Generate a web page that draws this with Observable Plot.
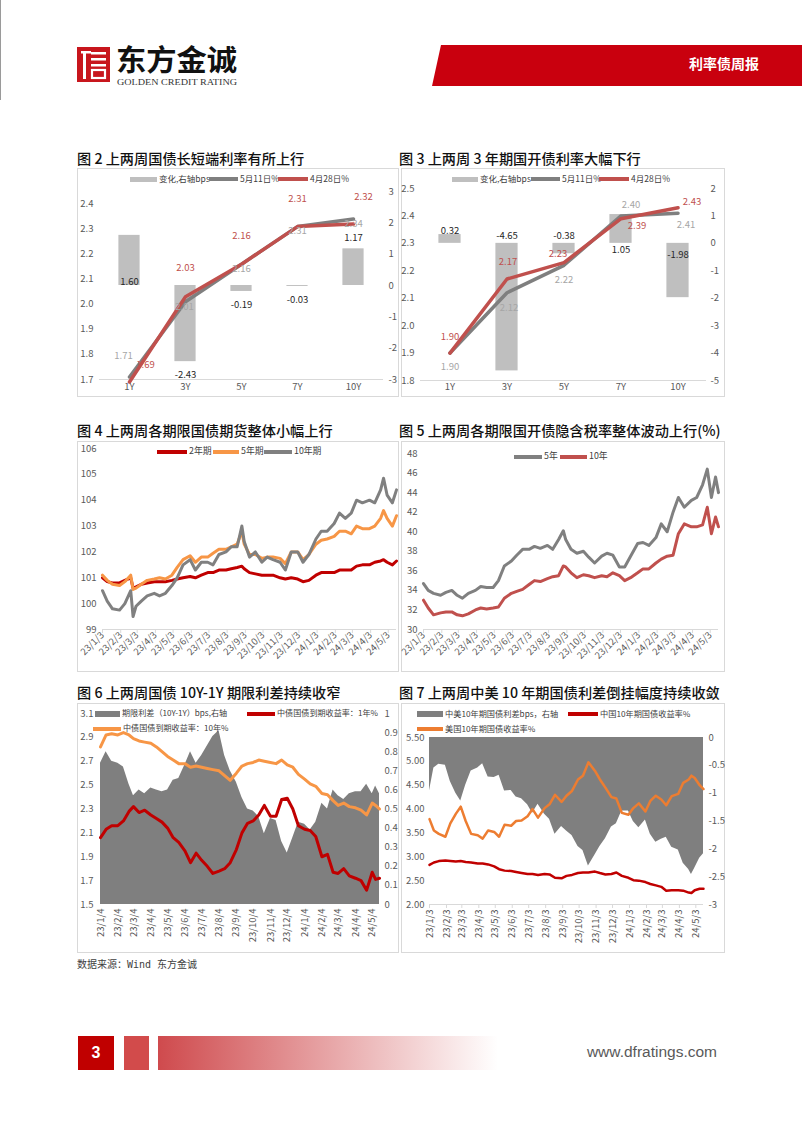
<!DOCTYPE html>
<html><head><meta charset="utf-8">
<script src="https://cdn.jsdelivr.net/npm/d3@7"></script>
<script src="https://cdn.jsdelivr.net/npm/@observablehq/plot@0.6"></script>
<style>
body{margin:0;background:#fff;}
#page{position:relative;width:802px;height:1133px;overflow:hidden;background:#fff;font-family:'Noto Sans CJK SC','Noto Sans',sans-serif;}
.abs{position:absolute;}
.panel{position:absolute;border:1px solid #d9d9d9;box-sizing:border-box;}
.title{position:absolute;font-size:14.2px;line-height:1;color:#111;font-weight:500;white-space:nowrap;}
.plot{position:absolute;}
.leg{position:absolute;line-height:1;color:#404040;white-space:nowrap;}
</style></head><body><div id="page">
<svg class="abs" style="left:0;top:0" width="802" height="100">
  <rect x="0" y="0" width="1" height="100" fill="#9a9a9a"/>
  <rect x="77" y="47" width="33" height="35" fill="#c8161d"/>
  <rect x="81" y="51" width="10" height="2.5" fill="#fff"/>
  <rect x="83" y="51" width="3" height="28" fill="#fff"/>
  <rect x="91" y="52" width="15" height="2.5" fill="#fff"/>
  <rect x="91" y="58" width="15" height="2.5" fill="#fff"/>
  <rect x="91" y="64" width="15" height="2.5" fill="#fff"/>
  <rect x="92" y="70" width="13" height="8" fill="none" stroke="#fff" stroke-width="2.2"/>
  <text x="116" y="71" font-family="Noto Sans CJK SC" font-weight="700" font-size="29" textLength="121" lengthAdjust="spacingAndGlyphs" fill="#111">东方金诚</text>
  <text x="117" y="85" font-family="Liberation Serif" font-size="9" textLength="120" lengthAdjust="spacingAndGlyphs" fill="#333">GOLDEN CREDIT RATING</text>
  <polygon points="441,45 802,45 802,86 432,86" fill="#c9000e"/>
  <text x="759" y="69" text-anchor="end" fill="#fff" font-family="Noto Sans CJK SC" font-size="14" font-weight="700">利率债周报</text>
</svg>
</div>
<script>
// ================= DATA =================
const c2Cats = ["1Y","3Y","5Y","7Y","10Y"];
const c2Change = [1.60,-2.43,-0.19,-0.03,1.17];
const c2May11 = [1.71,2.01,2.16,2.31,2.34];
const c2Apr28 = [1.69,2.03,2.16,2.31,2.32];
const c2LeftTicks = [1.7,1.8,1.9,2.0,2.1,2.2,2.3,2.4];
const c2RightTicks = [-3,-2,-1,0,1,2,3];
const c2Names = ["变化,右轴bps","5月11日%","4月28日%"];

const c3Cats = ["1Y","3Y","5Y","7Y","10Y"];
const c3Change = [0.32,-4.65,-0.38,1.05,-1.98];
const c3May11 = [1.90,2.12,2.22,2.40,2.41];
const c3Apr28 = [1.90,2.17,2.23,2.39,2.43];
const c3LeftTicks = [1.8,1.9,2.0,2.1,2.2,2.3,2.4,2.5];
const c3RightTicks = [-5,-4,-3,-2,-1,0,1,2];
const c3Names = ["变化,右轴bps","5月11日%","4月28日%"];

const monthTicks3 = ["2023-01-03","2023-02-03","2023-03-03","2023-04-03","2023-05-03","2023-06-03","2023-07-03","2023-08-03","2023-09-03","2023-10-03","2023-11-03","2023-12-03","2024-01-03","2024-02-03","2024-03-03","2024-04-03","2024-05-03"];
const monthTicks4 = ["2023-01-04","2023-02-04","2023-03-04","2023-04-04","2023-05-04","2023-06-04","2023-07-04","2023-08-04","2023-09-04","2023-10-04","2023-11-04","2023-12-04","2024-01-04","2024-02-04","2024-03-04","2024-04-04","2024-05-04"];

const c4Dates = ["2023-01-03","2023-01-11","2023-01-20","2023-02-01","2023-02-10","2023-02-20","2023-02-24","2023-03-01","2023-03-10","2023-03-20","2023-04-01","2023-04-10","2023-04-20","2023-05-01","2023-05-10","2023-05-20","2023-06-01","2023-06-10","2023-06-20","2023-07-01","2023-07-10","2023-07-20","2023-08-01","2023-08-10","2023-08-20","2023-08-28","2023-09-01","2023-09-10","2023-09-20","2023-10-01","2023-10-10","2023-10-20","2023-11-01","2023-11-10","2023-11-20","2023-12-01","2023-12-10","2023-12-20","2024-01-01","2024-01-10","2024-01-20","2024-02-01","2024-02-10","2024-02-20","2024-03-01","2024-03-10","2024-03-20","2024-04-01","2024-04-10","2024-04-20","2024-04-25","2024-05-01","2024-05-10","2024-05-17"];
const c4Y2 = [101.0,100.85,100.8,100.8,100.9,101.0,100.6,100.65,100.75,100.8,100.85,100.85,100.85,100.9,100.95,101.0,101.05,101.0,101.1,101.2,101.2,101.3,101.3,101.35,101.4,101.45,101.35,101.2,101.15,101.1,101.1,101.1,101.0,100.95,101.0,100.95,100.85,100.9,101.1,101.2,101.2,101.2,101.3,101.3,101.3,101.45,101.5,101.5,101.6,101.65,101.7,101.6,101.5,101.65];
const c4Y5 = [101.1,100.9,100.75,100.7,100.85,101.1,100.55,100.6,100.75,100.9,100.95,101.0,100.95,101.1,101.4,101.7,101.85,101.6,101.8,101.8,101.95,102.1,102.1,102.2,102.3,102.8,102.3,101.9,101.9,101.75,101.8,101.8,101.75,101.55,102.0,102.0,101.7,101.9,102.3,102.45,102.5,102.6,102.8,102.8,102.7,103.0,102.9,102.9,103.0,103.3,103.6,103.3,103.0,103.4];
const c4Y10 = [100.5,100.1,99.8,99.75,100.0,100.5,99.5,99.9,100.1,100.3,100.4,100.3,100.4,100.7,101.0,101.5,101.7,101.3,101.6,101.6,101.5,101.9,102.0,102.2,102.2,103.0,102.4,101.8,102.0,101.6,101.8,101.7,101.6,101.3,102.0,102.0,101.6,101.9,102.5,102.8,102.8,103.1,103.5,103.3,103.5,104.0,103.9,104.0,103.9,104.4,104.85,104.2,103.9,104.4];
const c4YTicks = [99,100,101,102,103,104,105,106];
const c4Names = ["2年期","5年期","10年期"];

const c5Dates = ["2023-01-03","2023-01-11","2023-01-20","2023-02-01","2023-02-10","2023-02-20","2023-03-01","2023-03-10","2023-03-20","2023-04-01","2023-04-10","2023-04-20","2023-05-01","2023-05-10","2023-05-20","2023-06-01","2023-06-10","2023-06-20","2023-07-01","2023-07-10","2023-07-20","2023-08-01","2023-08-10","2023-08-20","2023-08-28","2023-09-01","2023-09-10","2023-09-20","2023-10-01","2023-10-10","2023-10-20","2023-11-01","2023-11-10","2023-11-20","2023-12-01","2023-12-10","2023-12-20","2024-01-01","2024-01-10","2024-01-20","2024-02-01","2024-02-10","2024-02-20","2024-03-01","2024-03-10","2024-03-20","2024-04-01","2024-04-10","2024-04-20","2024-04-28","2024-05-05","2024-05-12","2024-05-17"];
const c5Y5 = [34.7,34.0,33.7,33.5,33.8,34.0,33.5,33.2,33.7,34.0,34.4,34.3,34.3,35.0,36.5,37.0,37.6,38.2,38.2,38.5,38.3,38.6,38.2,39.2,40.1,39.2,38.2,37.8,38.0,37.4,36.8,37.5,37.8,37.6,36.4,36.4,37.5,38.8,38.9,38.6,39.4,40.8,40.0,42.0,43.5,42.5,43.2,43.5,44.8,46.4,43.5,45.6,44.0];
const c5Y10 = [33.0,32.2,31.5,31.7,31.8,31.8,31.5,31.4,31.6,32.0,32.2,32.1,32.2,32.3,33.2,33.7,33.9,34.1,34.6,35.0,34.9,35.2,35.4,35.5,36.5,36.4,35.8,35.3,35.6,35.5,35.3,35.5,35.4,35.8,35.5,35.0,35.3,35.8,36.2,36.2,36.8,37.2,37.5,37.6,39.8,40.8,40.5,40.5,40.7,42.5,39.8,41.5,40.5];
const c5YTicks = [30,32,34,36,38,40,42,44,46,48];
const c5Names = ["5年","10年"];

const c6Dates = ["2023-01-04","2023-01-14","2023-01-24","2023-02-04","2023-02-14","2023-02-24","2023-03-04","2023-03-14","2023-03-24","2023-04-04","2023-04-14","2023-04-24","2023-05-04","2023-05-14","2023-05-24","2023-06-04","2023-06-14","2023-06-24","2023-07-04","2023-07-14","2023-07-24","2023-08-04","2023-08-14","2023-08-24","2023-09-04","2023-09-14","2023-09-24","2023-10-04","2023-10-14","2023-10-24","2023-11-04","2023-11-14","2023-11-24","2023-12-04","2023-12-14","2023-12-24","2024-01-04","2024-01-14","2024-01-24","2024-02-04","2024-02-14","2024-02-24","2024-03-04","2024-03-14","2024-03-24","2024-04-04","2024-04-14","2024-04-24","2024-05-04","2024-05-10","2024-05-17"];
const c6Spread = [0.74,0.80,0.75,0.74,0.72,0.63,0.57,0.60,0.58,0.61,0.60,0.59,0.60,0.65,0.66,0.73,0.80,0.74,0.78,0.83,0.88,0.91,0.78,0.70,0.64,0.56,0.50,0.49,0.46,0.37,0.45,0.44,0.33,0.27,0.35,0.43,0.42,0.39,0.43,0.53,0.50,0.60,0.57,0.55,0.58,0.59,0.59,0.63,0.58,0.62,0.58];
const c6Y1 = [2.06,2.13,2.16,2.16,2.20,2.28,2.32,2.27,2.29,2.25,2.22,2.19,2.14,2.06,2.02,1.95,1.85,1.93,1.87,1.82,1.76,1.78,1.80,1.85,1.96,2.10,2.18,2.20,2.25,2.33,2.24,2.24,2.38,2.39,2.30,2.16,2.13,2.12,2.07,1.90,1.92,1.77,1.76,1.80,1.74,1.72,1.70,1.62,1.77,1.71,1.72];
const c6Y10 = [2.82,2.92,2.93,2.92,2.94,2.92,2.89,2.87,2.86,2.85,2.82,2.78,2.74,2.71,2.68,2.68,2.65,2.66,2.65,2.64,2.63,2.62,2.58,2.54,2.60,2.66,2.68,2.69,2.71,2.70,2.69,2.68,2.71,2.67,2.65,2.59,2.55,2.51,2.49,2.43,2.42,2.37,2.33,2.35,2.32,2.31,2.29,2.25,2.35,2.33,2.30];
const c6LeftTicks = [1.5,1.7,1.9,2.1,2.3,2.5,2.7,2.9,3.1];
const c6RightTicks = [0,0.1,0.2,0.3,0.4,0.5,0.6,0.7,0.8,0.9,1];
const c6Names = ["期限利差（10Y-1Y）bps,右轴","中债国债到期收益率：1年%","中债国债到期收益率：10年%"];

const c7Dates = ["2023-01-03","2023-01-11","2023-01-20","2023-02-01","2023-02-10","2023-02-20","2023-03-01","2023-03-10","2023-03-20","2023-04-01","2023-04-10","2023-04-20","2023-05-01","2023-05-10","2023-05-20","2023-06-01","2023-06-10","2023-06-20","2023-07-01","2023-07-10","2023-07-20","2023-08-01","2023-08-10","2023-08-20","2023-09-01","2023-09-10","2023-09-20","2023-10-01","2023-10-10","2023-10-20","2023-11-01","2023-11-10","2023-11-20","2023-12-01","2023-12-10","2023-12-20","2024-01-01","2024-01-10","2024-01-20","2024-02-01","2024-02-10","2024-02-20","2024-03-01","2024-03-10","2024-03-20","2024-04-01","2024-04-10","2024-04-20","2024-04-25","2024-05-01","2024-05-10","2024-05-17"];
const c7Spread = [-0.96,-0.55,-0.48,-0.50,-0.79,-1.00,-1.14,-0.86,-0.60,-0.55,-0.47,-0.71,-0.72,-0.68,-0.96,-0.95,-1.07,-1.10,-1.21,-1.36,-1.20,-1.38,-1.47,-1.74,-1.60,-1.68,-1.76,-1.96,-2.03,-2.31,-2.11,-1.96,-1.82,-1.61,-1.55,-1.32,-1.32,-1.51,-1.62,-1.48,-1.74,-1.88,-1.83,-1.79,-1.97,-2.02,-2.26,-2.37,-2.46,-2.35,-2.17,-2.09];
const c7CN = [2.83,2.88,2.91,2.92,2.91,2.90,2.91,2.89,2.88,2.86,2.86,2.84,2.80,2.74,2.71,2.70,2.68,2.66,2.64,2.64,2.62,2.64,2.63,2.56,2.55,2.60,2.62,2.66,2.67,2.67,2.69,2.66,2.63,2.64,2.67,2.60,2.56,2.51,2.50,2.47,2.43,2.40,2.37,2.29,2.30,2.30,2.29,2.25,2.24,2.30,2.33,2.33];
const c7US = [3.79,3.55,3.48,3.42,3.70,3.90,4.05,3.75,3.48,3.45,3.38,3.55,3.52,3.42,3.67,3.65,3.75,3.76,3.85,4.00,3.82,4.02,4.10,4.30,4.15,4.28,4.38,4.62,4.70,4.98,4.80,4.62,4.45,4.25,4.22,3.92,3.88,4.02,4.12,3.95,4.17,4.28,4.20,4.08,4.27,4.32,4.55,4.62,4.70,4.65,4.50,4.42];
const c7LeftTicks = [2.0,2.5,3.0,3.5,4.0,4.5,5.0,5.5];
const c7RightTicks = [0,-0.5,-1,-1.5,-2,-2.5,-3];
const c7Names = ["中美10年期国债利差bps，右轴","中国10年期国债收益率%","美国10年期国债收益率%"];

const titles = ["图 2  上两周国债长短端利率有所上行","图 3  上两周 3 年期国开债利率大幅下行","图 4  上两周各期限国债期货整体小幅上行","图 5  上两周各期限国开债隐含税率整体波动上行(%)","图 6  上两周国债 10Y-1Y 期限利差持续收窄","图 7  上两周中美 10 年期国债利差倒挂幅度持续收敛"];
const sourceText = "数据来源：Wind 东方金诚";

// ================= HELPERS =================
const page = document.getElementById("page");
const FONT = "'Noto Sans CJK SC','Noto Sans',sans-serif";
const D = s => new Date(s + "T00:00:00Z");
const fmtDate = d => `${String(d.getUTCFullYear()).slice(2)}/${d.getUTCMonth()+1}/${d.getUTCDate()}`;
const baseStyle = {fontFamily: FONT, fontSize: "9.5px", color: "#595959", background: "transparent", overflow: "visible"};

function addDiv(cls, css, text) {
  const d = document.createElement("div");
  d.className = cls; d.style.cssText = css;
  if (text != null) d.textContent = text;
  page.appendChild(d); return d;
}
function place(svg, x, y) { const d = addDiv("plot", `left:${x}px;top:${y}px;`); d.appendChild(svg); }
function panel(x, y, w, h) { addDiv("panel", `left:${x}px;top:${y}px;width:${w}px;height:${h}px;`); }
function legend(items, size) {
  for (const it of items) {
    const h = it.h || 3.5;
    addDiv("abs", `left:${it.x}px;top:${it.y - h/2}px;width:${it.w}px;height:${h}px;background:${it.color};`);
    addDiv("leg", `left:${it.x + it.w + 2}px;top:${it.y - size/2 - 1}px;font-size:${size}px;`, it.text);
  }
}
function check(name, ...arrs) { const n = arrs[0].length; arrs.forEach(a => { if (a.length !== n) console.error(name, "length mismatch", a.length, n); }); }
check("c4", c4Dates, c4Y2, c4Y5, c4Y10); check("c5", c5Dates, c5Y5, c5Y10);
check("c6", c6Dates, c6Spread, c6Y1, c6Y10); check("c7", c7Dates, c7Spread, c7CN, c7US);

function pointLabels(cats, vals, offs, color) {
  return vals.map((v, i) => Plot.text([{c: cats[i], v}], {x: "c", y: "v", text: d => d.v.toFixed(2), dx: offs[i][0], dy: offs[i][1], fill: color, fontSize: 9.5}));
}
function barLabels(cats, vals, offs, r2l) {
  return vals.map((v, i) => Plot.text([{c: cats[i], v, yy: r2l(offs[i][0] === "zero" ? 0 : v)}], {x: "c", y: "yy", text: d => d.v.toFixed(2), dy: offs[i][1], fill: "#262626", fontSize: 9.5}));
}

// ================= LAYOUT: titles & panels =================
const titlePos = [[77,151],[399,151],[77,423],[399,423],[77,685],[399,685]];
titles.forEach((t, i) => addDiv("title", `left:${titlePos[i][0]}px;top:${titlePos[i][1]}px;`, t));
panel(77,168,322,229); panel(401,168,324,229);
panel(77,441,322,231); panel(401,441,324,231);
panel(77,703,322,250); panel(401,703,324,250);

// ================= CHART 2 =================
{
  const L = [1.7, 2.45], R = [-3, 3];
  const r2l = r => L[0] + (r - R[0]) / (R[1] - R[0]) * (L[1] - L[0]);
  const l2r = l => R[0] + (l - L[0]) / (L[1] - L[0]) * (R[1] - R[0]);
  const rows = c2Cats.map((c, i) => ({c, chg: c2Change[i], a: c2May11[i], b: c2Apr28[i]}));
  const grayOff = [[-6,-21],[-1,5],[0,5],[0,4],[0,5]];
  const redOff = [[16,-17],[0,-29],[0,-28],[0,-28],[10,-27]];
  const barOff = [["zero",-4],["end",13],["end",13],["end",14],["end",-11]];
  const svg = Plot.plot({
    width: 322, height: 229, marginLeft: 22, marginRight: 16, marginTop: 23, marginBottom: 18,
    style: baseStyle,
    x: {domain: c2Cats, padding: 0, label: null},
    y: {domain: L, label: null},
    marks: [
      Plot.ruleY([L[0]], {stroke: "#d9d9d9"}),
      Plot.barY(rows, {x: "c", y1: () => r2l(0), y2: d => r2l(d.chg), fill: "#bfbfbf", insetLeft: 17.4, insetRight: 17.4}),
      Plot.lineY(rows, {x: "c", y: "a", stroke: "#7f7f7f", strokeWidth: 3.5}),
      Plot.lineY(rows, {x: "c", y: "b", stroke: "#c0504d", strokeWidth: 3.5}),
      Plot.axisY(c2LeftTicks, {anchor: "left", tickSize: 0, tickPadding: 6, tickFormat: d => d.toFixed(1), label: null}),
      Plot.axisY(c2RightTicks.map(r2l), {anchor: "right", tickSize: 0, tickPadding: 5, tickFormat: d => String(Math.round(l2r(d))), label: null}),
      Plot.axisX({tickSize: 0, tickPadding: 4, label: null}),
      ...barLabels(c2Cats, c2Change, barOff, r2l),
      ...pointLabels(c2Cats, c2May11, grayOff, "#a6a6a6"),
      ...pointLabels(c2Cats, c2Apr28, redOff, "#c0504d")
    ]
  });
  place(svg, 77, 168);
  legend([
    {x:130, y:179, w:27, h:5, color:"#bfbfbf", text:c2Names[0]},
    {x:209, y:179, w:29, color:"#7f7f7f", text:c2Names[1]},
    {x:278, y:179, w:30, color:"#c0504d", text:c2Names[2]}
  ], 8.5);
}

// ================= CHART 3 =================
{
  const L = [1.8, 2.5], R = [-5, 2];
  const r2l = r => L[0] + (r - R[0]) / (R[1] - R[0]) * (L[1] - L[0]);
  const l2r = l => R[0] + (l - L[0]) / (L[1] - L[0]) * (R[1] - R[0]);
  const rows = c3Cats.map((c, i) => ({c, chg: c3Change[i], a: c3May11[i], b: c3Apr28[i]}));
  const grayOff = [[0,14],[2,15.5],[0,15],[10,-11],[8,12]];
  const redOff = [[0,-16],[1,-17],[-6,-9],[16,7],[14,-5.5]];
  const barOff = [["end",-4],["zero",-7],["zero",-7],["zero",6.5],["zero",12]];
  const svg = Plot.plot({
    width: 324, height: 229, marginLeft: 19, marginRight: 19, marginTop: 20, marginBottom: 17,
    style: baseStyle,
    x: {domain: c3Cats, padding: 0, label: null},
    y: {domain: L, label: null},
    marks: [
      Plot.ruleY([L[0]], {stroke: "#d9d9d9"}),
      Plot.barY(rows, {x: "c", y1: () => r2l(0), y2: d => r2l(d.chg), fill: "#bfbfbf", insetLeft: 17.4, insetRight: 17.4}),
      Plot.lineY(rows, {x: "c", y: "a", stroke: "#7f7f7f", strokeWidth: 3.5}),
      Plot.lineY(rows, {x: "c", y: "b", stroke: "#c0504d", strokeWidth: 3.5}),
      Plot.axisY(c3LeftTicks, {anchor: "left", tickSize: 0, tickPadding: 6, tickFormat: d => d.toFixed(1), label: null}),
      Plot.axisY(c3RightTicks.map(r2l), {anchor: "right", tickSize: 0, tickPadding: 4, tickFormat: d => String(Math.round(l2r(d))), label: null}),
      Plot.axisX({tickSize: 0, tickPadding: 3, label: null}),
      ...barLabels(c3Cats, c3Change, barOff, r2l),
      ...pointLabels(c3Cats, c3May11, grayOff, "#a6a6a6"),
      ...pointLabels(c3Cats, c3Apr28, redOff, "#c0504d")
    ]
  });
  place(svg, 401, 168);
  legend([
    {x:452, y:179, w:26, h:5, color:"#bfbfbf", text:c3Names[0]},
    {x:531, y:179, w:29, color:"#7f7f7f", text:c3Names[1]},
    {x:599, y:179, w:30, color:"#c0504d", text:c3Names[2]}
  ], 8.5);
}

// ================= CHART 4 =================
{
  const rows = c4Dates.map((d, i) => ({date: D(d), a: c4Y2[i], b: c4Y5[i], c: c4Y10[i]}));
  const ticks = monthTicks3.map(D);
  const svg = Plot.plot({
    width: 322, height: 231, marginLeft: 25, marginRight: 3, marginTop: 7, marginBottom: 43,
    style: baseStyle,
    x: {type: "utc", domain: [D("2023-01-03"), D("2024-05-17")], label: null},
    y: {domain: [99, 106], label: null},
    marks: [
      Plot.ruleY([99], {stroke: "#d9d9d9"}),
      Plot.axisX(ticks, {tickSize: 4, tickFormat: () => "", stroke: "#d9d9d9", label: null}),
      Plot.axisX(ticks, {tickSize: 0, tickPadding: 4, tickRotate: -45, tickFormat: fmtDate, label: null}),
      Plot.axisY(c4YTicks, {anchor: "left", tickSize: 0, tickPadding: 6, label: null}),
      Plot.lineY(rows, {x: "date", y: "a", stroke: "#c00000", strokeWidth: 3}),
      Plot.lineY(rows, {x: "date", y: "b", stroke: "#f79646", strokeWidth: 3}),
      Plot.lineY(rows, {x: "date", y: "c", stroke: "#808080", strokeWidth: 3})
    ]
  });
  place(svg, 77, 441);
  legend([
    {x:157, y:452, w:30, color:"#c00000", text:c4Names[0]},
    {x:213, y:452, w:26, color:"#f79646", text:c4Names[1]},
    {x:264, y:452, w:28, color:"#808080", text:c4Names[2]}
  ], 8.8);
}

// ================= CHART 5 =================
{
  const rows = c5Dates.map((d, i) => ({date: D(d), a: c5Y5[i], b: c5Y10[i]}));
  const ticks = monthTicks3.map(D);
  const svg = Plot.plot({
    width: 324, height: 231, marginLeft: 22, marginRight: 7, marginTop: 12, marginBottom: 43,
    style: baseStyle,
    x: {type: "utc", domain: [D("2023-01-03"), D("2024-05-17")], label: null},
    y: {domain: [30, 48], label: null},
    marks: [
      Plot.ruleY([30], {stroke: "#d9d9d9"}),
      Plot.axisX(ticks, {tickSize: 4, tickFormat: () => "", stroke: "#d9d9d9", label: null}),
      Plot.axisX(ticks, {tickSize: 0, tickPadding: 4, tickRotate: -45, tickFormat: fmtDate, label: null}),
      Plot.axisY(c5YTicks, {anchor: "left", tickSize: 0, tickPadding: 6, label: null}),
      Plot.lineY(rows, {x: "date", y: "a", stroke: "#808080", strokeWidth: 3}),
      Plot.lineY(rows, {x: "date", y: "b", stroke: "#c0504d", strokeWidth: 3})
    ]
  });
  place(svg, 401, 441);
  legend([
    {x:514, y:457, w:28, color:"#808080", text:c5Names[0]},
    {x:560, y:457, w:27, color:"#c0504d", text:c5Names[1]}
  ], 8.8);
}

// ================= CHART 6 =================
{
  const L = [1.5, 3.1], R = [0, 1];
  const r2l = r => L[0] + (r - R[0]) / (R[1] - R[0]) * (L[1] - L[0]);
  const l2r = l => R[0] + (l - L[0]) / (L[1] - L[0]) * (R[1] - R[0]);
  const rows = c6Dates.map((d, i) => ({date: D(d), s: c6Spread[i], a: c6Y1[i], b: c6Y10[i]}));
  const svg = Plot.plot({
    width: 322, height: 250, marginLeft: 23, marginRight: 20, marginTop: 10, marginBottom: 49,
    style: baseStyle,
    x: {type: "utc", domain: [D("2023-01-04"), D("2024-05-17")], label: null},
    y: {domain: L, label: null},
    marks: [
      Plot.area(rows, {x1: "date", y1: () => L[0], y2: d => r2l(d.s), fill: "#7f7f7f"}),
      Plot.lineY(rows, {x: "date", y: "b", stroke: "#f79646", strokeWidth: 3}),
      Plot.lineY(rows, {x: "date", y: "a", stroke: "#c00000", strokeWidth: 3}),
      Plot.axisY(c6LeftTicks, {anchor: "left", tickSize: 0, tickPadding: 7, tickFormat: d => d.toFixed(1), label: null}),
      Plot.axisY(c6RightTicks.map(r2l), {anchor: "right", tickSize: 0, tickPadding: 5, tickFormat: d => String(Math.round(l2r(d) * 10) / 10), label: null}),
      Plot.axisX(monthTicks4.map(D), {tickSize: 0, tickPadding: 4, tickRotate: -90, tickFormat: fmtDate, label: null})
    ]
  });
  place(svg, 77, 703);
  legend([
    {x:95, y:714, w:25, h:6, color:"#7f7f7f", text:c6Names[0]},
    {x:247, y:714, w:28, color:"#c00000", text:c6Names[1]},
    {x:93, y:729, w:28, color:"#f79646", text:c6Names[2]}
  ], 8.1);
}

// ================= CHART 7 =================
{
  const L = [2.0, 5.5], R = [-3, 0];
  const r2l = r => L[0] + (r - R[0]) / (R[1] - R[0]) * (L[1] - L[0]);
  const l2r = l => R[0] + (l - L[0]) / (L[1] - L[0]) * (R[1] - R[0]);
  const rows = c7Dates.map((d, i) => ({date: D(d), s: c7Spread[i], cn: c7CN[i], us: c7US[i]}));
  const ticks = monthTicks3.map(D);
  const svg = Plot.plot({
    width: 324, height: 250, marginLeft: 28, marginRight: 22, marginTop: 34, marginBottom: 49,
    style: baseStyle,
    x: {type: "utc", domain: [D("2023-01-03"), D("2024-05-17")], label: null},
    y: {domain: L, label: null},
    marks: [
      Plot.area(rows, {x1: "date", y1: () => L[1], y2: d => r2l(d.s), fill: "#7f7f7f"}),
      Plot.ruleY([L[0]], {stroke: "#d9d9d9"}),
      Plot.axisX(ticks, {tickSize: 4, tickFormat: () => "", stroke: "#d9d9d9", label: null}),
      Plot.lineY(rows, {x: "date", y: "us", stroke: "#ed7d31", strokeWidth: 2.5}),
      Plot.lineY(rows, {x: "date", y: "cn", stroke: "#c00000", strokeWidth: 2.5}),
      Plot.axisY(c7LeftTicks, {anchor: "left", tickSize: 0, tickPadding: 5, tickFormat: d => d.toFixed(2), label: null}),
      Plot.axisY(c7RightTicks.map(r2l), {anchor: "right", tickSize: 0, tickPadding: 5, tickFormat: d => String(Math.round(l2r(d) * 10) / 10), label: null}),
      Plot.axisX(ticks, {tickSize: 0, tickPadding: 5, tickRotate: -90, tickFormat: fmtDate, label: null})
    ]
  });
  place(svg, 401, 703);
  legend([
    {x:417, y:714, w:26, h:6, color:"#7f7f7f", text:c7Names[0]},
    {x:568, y:714, w:30, color:"#c00000", text:c7Names[1]},
    {x:417, y:729, w:26, color:"#ed7d31", text:c7Names[2]}
  ], 8.2);
}

// ================= SOURCE & FOOTER =================
addDiv("abs", "left:77px;top:960px;font-size:10px;line-height:1;color:#404040;font-family:'DejaVu Sans Mono','Noto Sans CJK SC',monospace;white-space:nowrap;", sourceText);
addDiv("abs", "left:78px;top:1036px;width:36px;height:34px;background:#c00000;color:#fff;font:bold 16px 'Liberation Sans',Arial,sans-serif;display:flex;align-items:center;justify-content:center;", "3");
addDiv("abs", "left:124px;top:1036px;width:25px;height:34px;background:#d24b4b;");
addDiv("abs", "left:158px;top:1036px;width:340px;height:34px;background:linear-gradient(to right,#cf4a4d,rgba(255,255,255,0));");
addDiv("abs", "left:560px;width:157px;text-align:right;top:1044px;font:15.5px 'Liberation Sans',Arial,sans-serif;line-height:1;color:#595959;white-space:nowrap;", "www.dfratings.com");
</script></body></html>
